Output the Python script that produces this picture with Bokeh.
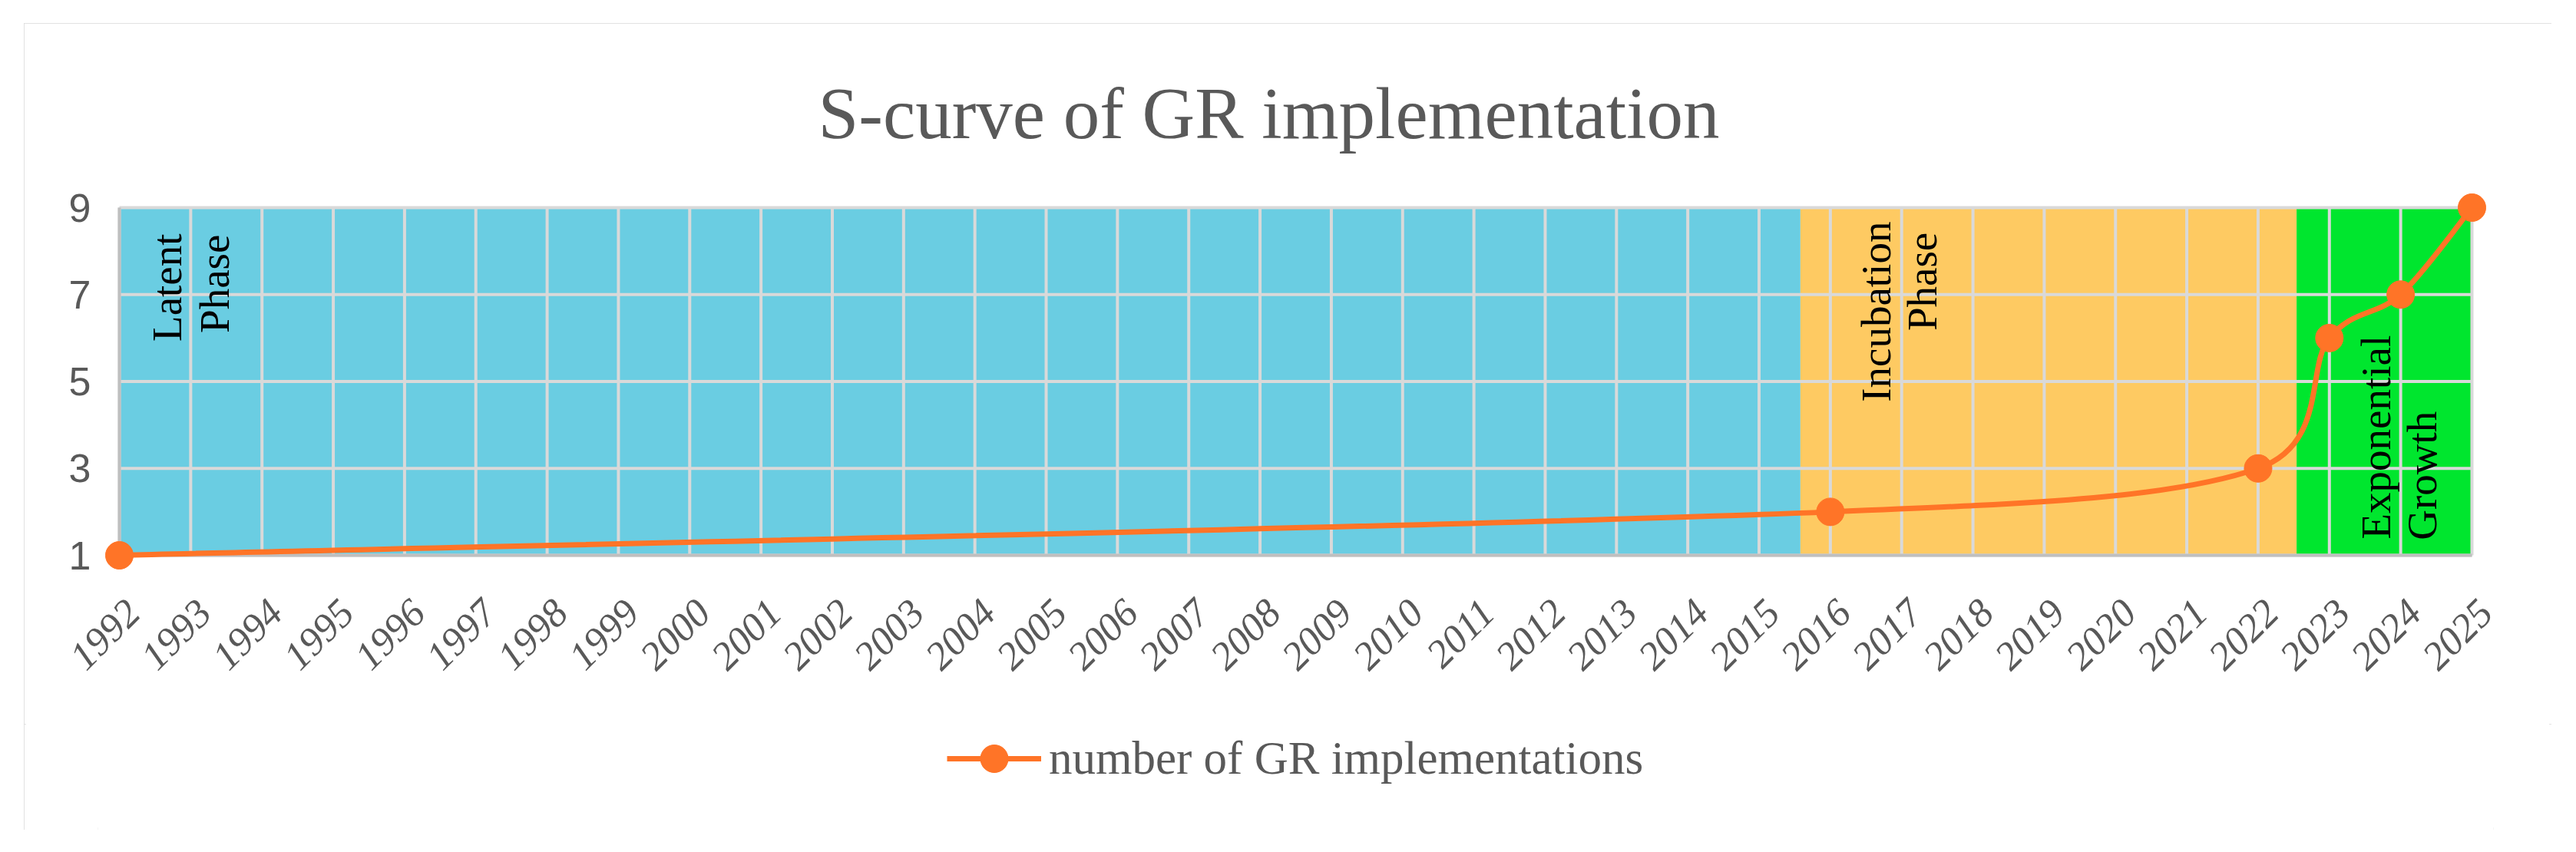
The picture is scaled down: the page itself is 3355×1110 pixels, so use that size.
import math
from bokeh.plotting import figure
from bokeh.layouts import column
from bokeh.models import Range1d, FixedTicker, Legend, LegendItem
from bokeh.core.properties import value
from bokeh.embed import file_html
from bokeh.resources import INLINE

# ---------------- data ----------------
title_text = "S-curve of GR implementation"
series_name = "number of GR implementations"
tick_years = [1992, 1993, 1994, 1995, 1996, 1997, 1998, 1999, 2000, 2001, 2002,
              2003, 2004, 2005, 2006, 2007, 2008, 2009, 2010, 2011, 2012, 2013,
              2014, 2015, 2016, 2017, 2018, 2019, 2020, 2021, 2022, 2023, 2024, 2025]
year_labels = ["1992", "1993", "1994", "1995", "1996", "1997", "1998", "1999",
               "2000", "2001", "2002", "2003", "2004", "2005", "2006", "2007",
               "2008", "2009", "2010", "2011", "2012", "2013", "2014", "2015",
               "2016", "2017", "2018", "2019", "2020", "2021", "2022", "2023",
               "2024", "2025"]
y_ticks = [1, 3, 5, 7, 9]
impl_years = [1992, 2016, 2022, 2023, 2024, 2025]
impl_counts = [1, 2, 3, 6, 7, 9]
phase_names = ["Latent Phase", "Incubation Phase", "Exponential Growth"]
phase_start = [1992, 2015.58, 2022.54]
phase_end = [2015.58, 2022.54, 2025]

# ---------------- styles / layout ----------------
phase_colors = ["#6ACDE2", "#FECA62", "#00E62E"]
ORANGE = "#FF7427"
GRID = "#D9D9D9"
AXIS = "#BFBFBF"
TXT = "#595959"
SERIF = "Liberation Serif"

W = 3292
MAIN_H = 913
LEG_H = 1051 - MAIN_H
PLOT_L, PLOT_R, PLOT_T, PLOT_B = 124, 3188, 240, 693   # data area inside canvas
PAD = 28                      # frame padding so corner markers / labels are not clipped
PPY = (PLOT_R - PLOT_L) / 33.0   # px per year
PPU = (PLOT_B - PLOT_T) / 8.0    # px per unit
LABEL_SHIFT = 0.19            # Excel-like placement of slanted year labels
x0, x1 = tick_years[0], tick_years[-1]
y0, y1 = y_ticks[0], y_ticks[-1]

p = figure(frame_width=PLOT_R - PLOT_L + 2 * PAD, frame_height=PLOT_B - PLOT_T + 2 * PAD,
           output_backend="svg", toolbar_location=None,
           x_range=Range1d(x0 - PAD / PPY, x1 + PAD / PPY),
           y_range=Range1d(y0 - PAD / PPU, y1 + PAD / PPU),
           min_border_left=PLOT_L - PAD, min_border_right=W - PLOT_R - PAD,
           min_border_top=PLOT_T - PAD, min_border_bottom=MAIN_H - PLOT_B - PAD,
           background_fill_color="white", border_fill_color="white")
p.outline_line_color = None
p.xgrid.visible = False
p.ygrid.visible = False

# title
p.title.text = title_text
p.title.align = "left"
p.title.text_font = SERIF
p.title.text_font_size = "95px"
p.title.text_font_style = "normal"
p.title.text_color = TXT
p.title.standoff = 92 - (PAD - 20)
p.title.offset = 930 + (PAD - 20)

# phase bands
p.quad(left=phase_start, right=phase_end, bottom=[y0] * 3, top=[y1] * 3,
       fill_color=phase_colors, line_color=None)

# gridlines
p.segment(x0=tick_years, x1=tick_years, y0=[y0] * len(tick_years), y1=[y1] * len(tick_years),
          line_color=GRID, line_width=4)
p.segment(x0=[x0] * len(y_ticks), x1=[x1] * len(y_ticks), y0=y_ticks, y1=y_ticks,
          line_color=GRID, line_width=4)
# axis lines
p.segment(x0=[x0, x0], x1=[x1, x0], y0=[y0, y0], y1=[y0, y1], line_color=AXIS, line_width=4)

# axes
label_pos = [t + LABEL_SHIFT for t in tick_years]
p.xaxis.ticker = FixedTicker(ticks=label_pos)
p.xaxis.major_label_overrides = {t: lab for t, lab in zip(label_pos, year_labels)}
p.xaxis.major_label_orientation = math.pi / 4
p.xaxis.major_label_text_font = SERIF
p.xaxis.major_label_text_font_style = "italic"
p.xaxis.major_label_text_font_size = "52px"
p.xaxis.major_label_text_color = TXT
p.xaxis.major_label_standoff = 46 - (PAD - 20)
p.yaxis.ticker = FixedTicker(ticks=y_ticks)
p.yaxis.major_label_text_font = "Liberation Sans"
p.yaxis.major_label_text_font_size = "52px"
p.yaxis.major_label_text_color = TXT
p.yaxis.major_label_standoff = 17 - (PAD - 20)
for ax in (p.xaxis, p.yaxis):
    ax.axis_line_color = None
    ax.major_tick_line_color = None
    ax.minor_tick_line_color = None
    ax.major_tick_out = 0
    ax.major_tick_in = 0
    ax.minor_tick_out = 0
    ax.minor_tick_in = 0


# smoothed line (Excel-like Bezier smoothing of the data points)
def smooth_segments(xs, ys):
    n = len(xs)
    px = [x * PPY for x in xs]
    py = [y * PPU for y in ys]
    out = dict(x0=[], y0=[], x1=[], y1=[], cx0=[], cy0=[], cx1=[], cy1=[])
    for i in range(n - 1):
        a, b, c, d = max(i - 1, 0), i, i + 1, min(i + 2, n - 1)
        d12 = math.hypot(px[c] - px[b], py[c] - py[b])
        d02 = math.hypot(px[c] - px[a], py[c] - py[a])
        d13 = math.hypot(px[d] - px[b], py[d] - py[b])
        f0 = min(1 / 6, 0.5 * d12 / d02) if d02 > 0 else 0
        f1 = min(1 / 6, 0.5 * d12 / d13) if d13 > 0 else 0
        out["x0"].append(xs[b]); out["y0"].append(ys[b])
        out["x1"].append(xs[c]); out["y1"].append(ys[c])
        out["cx0"].append(xs[b] + f0 * (xs[c] - xs[a]))
        out["cy0"].append(ys[b] + f0 * (ys[c] - ys[a]))
        out["cx1"].append(xs[c] - f1 * (xs[d] - xs[b]))
        out["cy1"].append(ys[c] - f1 * (ys[d] - ys[b]))
    return out


segs = smooth_segments(impl_years, impl_counts)
p.bezier(line_color=ORANGE, line_width=7, line_cap="round", **segs)
p.scatter(impl_years, impl_counts, size=36, marker="circle",
          fill_color=ORANGE, line_color=ORANGE)

# phase labels (vertical text)
lines = [w for name in phase_names for w in name.split()]
lab_x = [1992.67, 1993.34, 2016.64, 2017.29, 2023.65, 2024.30]
lab_y = [8.40, 8.38, 8.68, 8.43, 1.37, 1.35]
top_idx = [0, 1, 2, 3]
bot_idx = [4, 5]
p.text(x=[lab_x[i] for i in top_idx], y=[lab_y[i] for i in top_idx],
       text=[lines[i] for i in top_idx], angle=math.pi / 2,
       text_align="right", text_baseline="middle", text_color="black",
       text_font=value(SERIF), text_font_size="55px")
p.text(x=[lab_x[i] for i in bot_idx], y=[lab_y[i] for i in bot_idx],
       text=[lines[i] for i in bot_idx], angle=math.pi / 2,
       text_align="left", text_baseline="middle", text_color="black",
       text_font=value(SERIF), text_font_size="55px")

# legend strip (separate small canvas below the chart)
lf = figure(width=W, height=LEG_H, output_backend="svg", toolbar_location=None,
            x_range=Range1d(0, 1), y_range=Range1d(0, 1),
            x_axis_location=None, y_axis_location=None, min_border=0,
            background_fill_color="white", border_fill_color="white")
lf.outline_line_color = None
lf.xgrid.visible = False
lf.ygrid.visible = False
leg_line = lf.line([float("nan")], [float("nan")], line_color=ORANGE, line_width=7)
leg_pts = lf.scatter([float("nan")], [float("nan")], size=36, marker="circle",
                     fill_color=ORANGE, line_color=ORANGE)
legend = Legend(items=[LegendItem(label=series_name, renderers=[leg_line, leg_pts])],
                location=(1106, LEG_H - 90), orientation="horizontal",
                glyph_width=123, glyph_height=90, label_standoff=10,
                label_text_font=SERIF, label_text_font_size="61px",
                label_text_color=TXT, border_line_color=None,
                background_fill_alpha=0, padding=0, margin=0)
lf.add_layout(legend, "center")

page = column(p, lf, spacing=0)
page.margin = (30, 0, 0, 31)
page.styles = {"outline": "3px solid #D9D9D9", "outline-offset": "-3px"}

open("out.html", "w").write(file_html(page, INLINE))
